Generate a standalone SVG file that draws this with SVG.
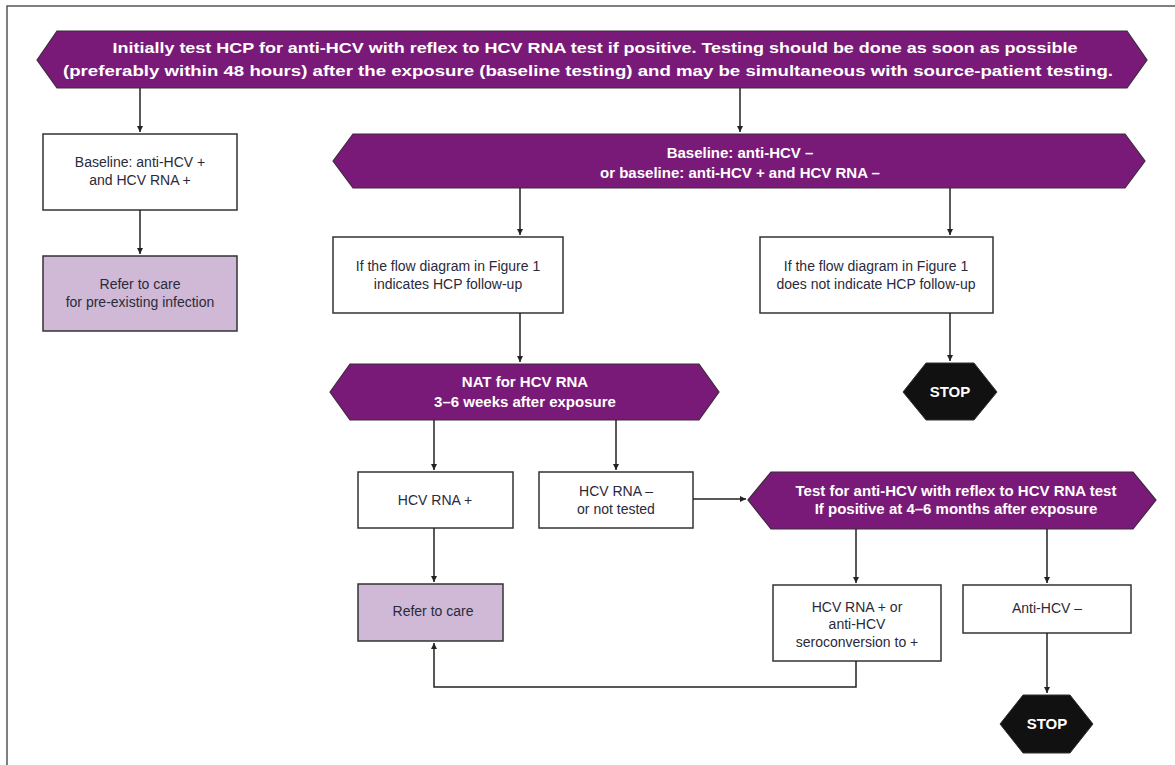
<svg xmlns="http://www.w3.org/2000/svg" width="1175" height="765" viewBox="0 0 1175 765">
<style>
.frame{fill:none;stroke:#555;stroke-width:1.5}
.hex{fill:#7a1a78;stroke:#3d2a3d;stroke-width:1.2}
.box{fill:#fff;stroke:#333;stroke-width:1.5}
.care{fill:#cfb9d7;stroke:#333;stroke-width:1.5}
.stop{fill:#111;stroke:#333;stroke-width:1}
.wt{fill:#fff;font-family:"Liberation Sans",Arial,sans-serif;font-weight:bold;font-size:15px;text-anchor:middle}
.bt{fill:#2a2a3a;font-family:"Liberation Sans",Arial,sans-serif;font-size:14px;text-anchor:middle}
.st{fill:#fff;font-family:"Liberation Sans",Arial,sans-serif;font-weight:bold;font-size:15px;text-anchor:middle}
.conn path{fill:none;stroke:#222;stroke-width:1.5;marker-end:url(#ah)}
</style>
<defs>
<marker id="ah" viewBox="0 0 10 10" refX="10" refY="5" markerWidth="6" markerHeight="7" markerUnits="userSpaceOnUse" orient="auto">
<path d="M0,0 L10,5 L0,10 z" fill="#222"/>
</marker>
</defs>
<path class="frame" d="M7,765 L7,6 L1175,6"/>

<g id="n-initial">
<polygon class="hex" points="37,60 57,31 1127,31 1147,60 1127,88 57,88"/>
<text class="wt" x="595" y="53" textLength="965" lengthAdjust="spacingAndGlyphs">Initially test HCP for anti-HCV with reflex to HCV RNA test if positive. Testing should be done as soon as possible</text>
<text class="wt" x="588" y="76" textLength="1050" lengthAdjust="spacingAndGlyphs">(preferably within 48 hours) after the exposure (baseline testing) and may be simultaneous with source-patient testing.</text>
</g>

<g id="n-baseline-pos">
<rect class="box" x="43" y="134" width="194" height="76"/>
<text class="bt" x="140" y="167">Baseline: anti-HCV +</text>
<text class="bt" x="140" y="185">and HCV RNA +</text>
</g>

<g id="n-refer-pre">
<rect class="care" x="43" y="256" width="194" height="75"/>
<text class="bt" x="140" y="289">Refer to care</text>
<text class="bt" x="140" y="307">for pre-existing infection</text>
</g>

<g id="n-baseline-neg">
<polygon class="hex" points="333,161 353,134 1125,134 1145,161 1125,188 353,188"/>
<text class="wt" x="740" y="158">Baseline: anti-HCV –</text>
<text class="wt" x="740" y="178">or baseline: anti-HCV + and HCV RNA –</text>
</g>

<g id="n-followup">
<rect class="box" x="333" y="237" width="230" height="76"/>
<text class="bt" x="448" y="271">If the flow diagram in Figure 1</text>
<text class="bt" x="448" y="289">indicates HCP follow-up</text>
</g>

<g id="n-nofollowup">
<rect class="box" x="760" y="237" width="233" height="76"/>
<text class="bt" x="876" y="271">If the flow diagram in Figure 1</text>
<text class="bt" x="876" y="289">does not indicate HCP follow-up</text>
</g>

<g id="n-stop1">
<polygon class="stop" points="903,392 926,363 974,363 997,392 974,420 926,420"/>
<text class="st" x="950" y="397">STOP</text>
</g>

<g id="n-nat">
<polygon class="hex" points="330,392 350,364 699,364 719,392 699,420 350,420"/>
<text class="wt" x="525" y="387">NAT for HCV RNA</text>
<text class="wt" x="525" y="407">3–6 weeks after exposure</text>
</g>

<g id="n-rna-pos">
<rect class="box" x="358" y="472" width="155" height="56"/>
<text class="bt" x="435" y="505">HCV RNA +</text>
</g>

<g id="n-rna-neg">
<rect class="box" x="539" y="472" width="154" height="56"/>
<text class="bt" x="616" y="496">HCV RNA –</text>
<text class="bt" x="616" y="514">or not tested</text>
</g>

<g id="n-test-anti">
<polygon class="hex" points="748,500 771,472 1133,472 1156,500 1133,529 771,529"/>
<text class="wt" x="956" y="496">Test for anti-HCV with reflex to HCV RNA test</text>
<text class="wt" x="956" y="514">If positive at 4–6 months after exposure</text>
</g>

<g id="n-refer">
<rect class="care" x="358" y="584" width="145" height="57"/>
<text class="bt" x="433" y="616">Refer to care</text>
</g>

<g id="n-seroconv">
<rect class="box" x="773" y="585" width="168" height="76"/>
<text class="bt" x="857" y="612">HCV RNA + or</text>
<text class="bt" x="857" y="629">anti-HCV</text>
<text class="bt" x="857" y="647">seroconversion to +</text>
</g>

<g id="n-anti-neg">
<rect class="box" x="963" y="585" width="168" height="48"/>
<text class="bt" x="1047" y="613">Anti-HCV –</text>
</g>

<g id="n-stop2">
<polygon class="stop" points="1000,724 1023,695 1070,695 1093,724 1070,753 1023,753"/>
<text class="st" x="1047" y="729">STOP</text>
</g>

<g class="conn" id="connectors">
<path d="M140,88 L140,132"/>
<path d="M740,88 L740,132"/>
<path d="M140,210 L140,254"/>
<path d="M520,188 L520,235"/>
<path d="M950,188 L950,235"/>
<path d="M520,313 L520,362"/>
<path d="M950,313 L950,361"/>
<path d="M434,420 L434,470"/>
<path d="M616,420 L616,470"/>
<path d="M693,499 L746,499"/>
<path d="M434,528 L434,582"/>
<path d="M856,529 L856,583"/>
<path d="M1047,529 L1047,583"/>
<path d="M856,661 L856,687 L434,687 L434,643"/>
<path d="M1047,633 L1047,693"/>
</g>
</svg>
